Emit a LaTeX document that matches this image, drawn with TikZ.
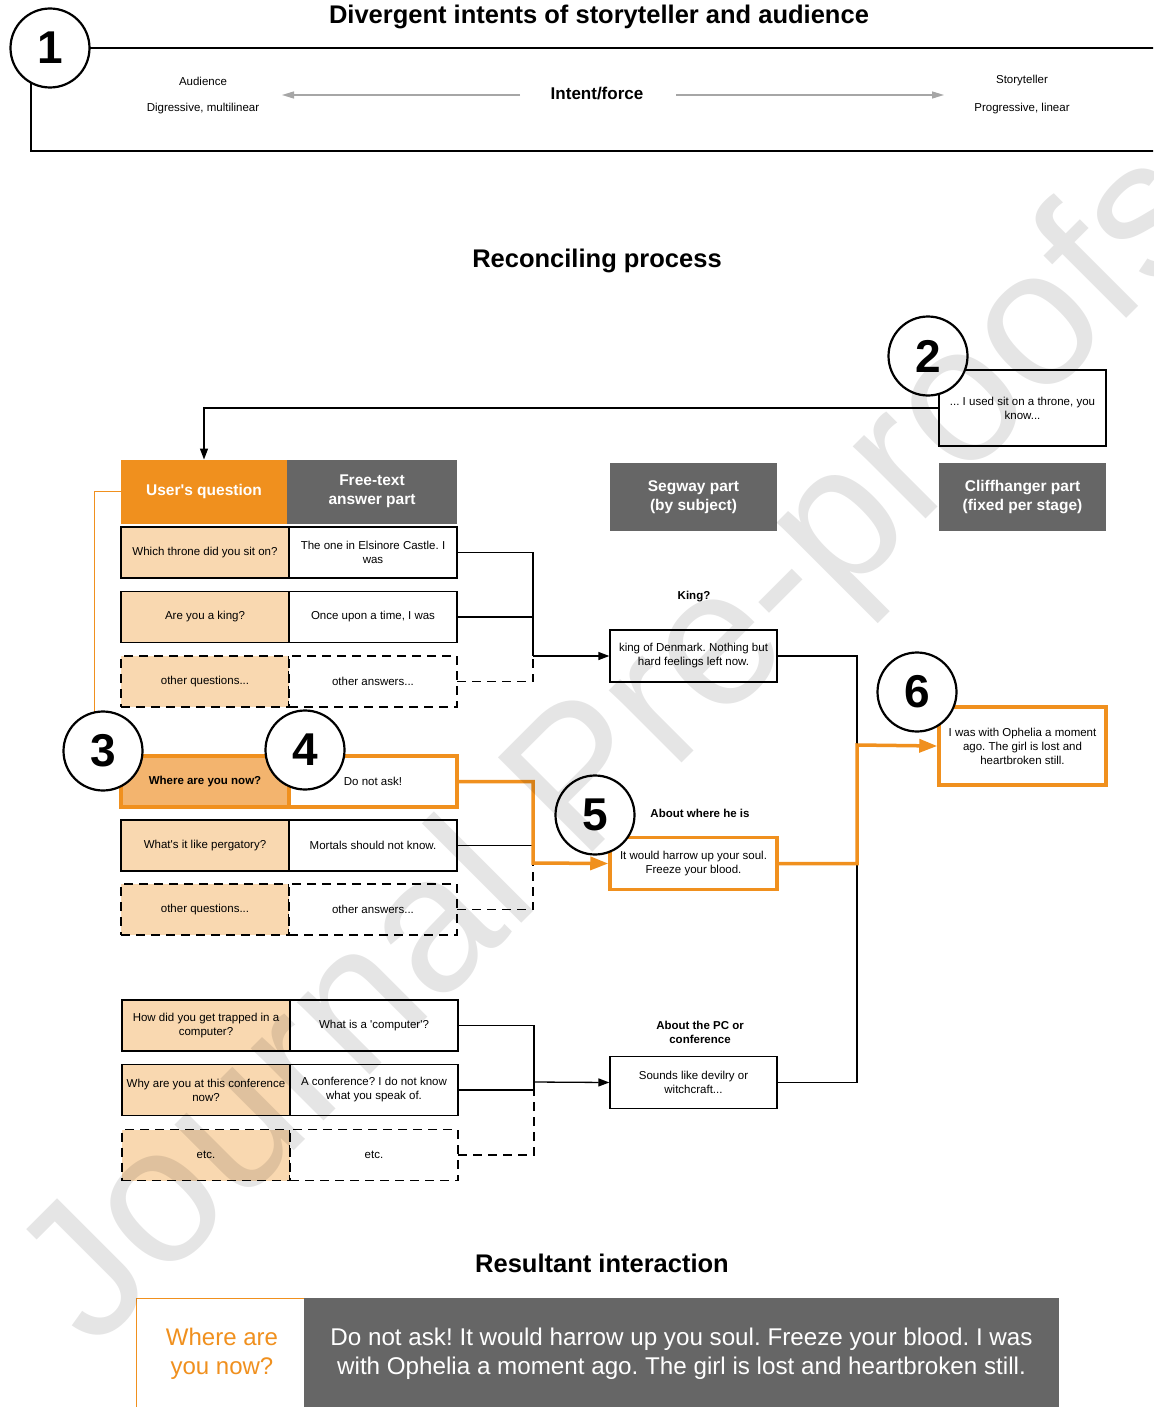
\documentclass[tikz,border=0pt]{standalone}
\usepackage{fontspec}
\setmainfont{Liberation Sans}[Ligatures=TeXOff]
\usepackage{xcolor}
\definecolor{qorange}{HTML}{F0901E}
\definecolor{qpeach}{HTML}{F9D8B0}
\definecolor{qhot}{HTML}{F3B46E}
\definecolor{headgrey}{HTML}{666666}
\definecolor{forcegrey}{HTML}{A6A6A6}
\usetikzlibrary{arrows.meta, positioning}
\frenchspacing

\begin{document}
\begin{tikzpicture}[x=1pt, y=-1pt,
  smalltxt/.style={font=\fontsize{11.5}{14}\selectfont},
  boldtxt/.style={font=\fontsize{11.5}{14}\selectfont\bfseries, align=center},
  heading/.style={font=\fontsize{25.5}{30}\selectfont\bfseries},
  cell/.style={draw, line width=1.3pt, outer sep=0pt, minimum width=168, minimum height=51, inner sep=2pt, align=center, smalltxt},
  qcell/.style={cell, fill=qpeach},
  acell/.style={cell, fill=white},
  etcrow/.style={dash pattern=on 9pt off 6pt},
  colhead/.style={fill=headgrey, text=white, outer sep=0pt, minimum width=168, minimum height=64, align=center, font=\fontsize{15.5}{19}\selectfont\bfseries},
  segbox/.style={draw, line width=1.3pt, fill=white, minimum width=167, minimum height=52, align=center, smalltxt},
  hot/.style={draw=qorange, line width=3.5pt},
  badge/.style={circle, draw, line width=2.2pt, fill=white, minimum size=79, inner sep=0pt, font=\fontsize{46}{46}\selectfont\bfseries},
  link/.style={line width=1.3pt},
  hotlink/.style={draw=qorange, line width=3.5pt},
  leadto/.style={-{Triangle[length=11pt, width=8pt]}},
  hotlead/.style={-{Triangle[length=18pt, width=13pt]}},
]

\clip (0,0) rectangle (1153,1407);
\fill[white] (0,0) rectangle (1153,1407);

% divergent intents
\draw[link] (31,48) rectangle (1170,151);
\node[badge] (n1) at (50,48) {1};
\node[heading] (divtitle) at (599,17) {Divergent intents of storyteller and audience};
\node[smalltxt] (aud) at (203,81) {Audience};
\node[smalltxt] (audkind) at (203,109) {Digressive, multilinear};
\node[font=\fontsize{17}{20}\selectfont\bfseries] (force) at (597,94) {Intent/force};
\node[smalltxt] (story) at (1022,81) {Storyteller};
\node[smalltxt] (storykind) at (1022,109) {Progressive, linear};
\coordinate (forcel) at (520,95);
\coordinate (forcela) at (282,95);
\coordinate (forcer) at (676,95);
\coordinate (forcera) at (944,95);
\draw[forcegrey, line width=1.3pt, -{Triangle[length=12pt, width=7pt]}] (forcel) -- (forcela);
\draw[forcegrey, line width=1.3pt, -{Triangle[length=12pt, width=7pt]}] (forcer) -- (forcera);

% reconciling process
\node[heading] (rectitle) at (597,261) {Reconciling process};

\node[colhead, fill=qorange, minimum width=166] (uq) at (204,491.5) {User's question};
\node[colhead, minimum width=170, right=0pt of uq] (ftext) {Free-text\\answer part};
\node[colhead, minimum width=167, minimum height=68] (segway) at (693.5,497) {Segway part\\(by subject)};
\node[colhead, minimum width=167, minimum height=68] (cliff) at (1022.5,497) {Cliffhanger part\\(fixed per stage)};

\node[segbox, minimum height=76] (used) at (1022.5,408) {... I used sit on a throne, you\\know...};
\draw[link, leadto] (used.west) -| (uq.north);
\node[badge] (n2) at (928,356) {2};

% subject: king
\node[qcell] (q1) at (205,552.5) {Which throne did you sit on?};
\node[acell, right=0pt of q1] (a1) {The one in Elsinore Castle. I\\was};
\node[qcell] (q2) at (205,617) {Are you a king?};
\node[acell, right=0pt of q2] (a2) {Once upon a time, I was};
\node[qcell, etcrow] (q3) at (205,681.5) {other questions...};
\node[acell, etcrow, right=0pt of q3] (a3) {other answers...};

\node[boldtxt] (kinglabel) at (694,597) {King?};
\node[segbox] (king) at (693.5,656) {king of Denmark. Nothing but\\hard feelings left now.};
\coordinate (join1) at (533,656);
\draw[link] (a1.east) -| (join1);
\draw[link] (a2.east) -| (join1);
\draw[link, etcrow] (a3.east) -| (join1);
\draw[link, leadto] (join1) -- (king.west);

% subject: where he is
\node[qcell, fill=qhot, hot, font=\fontsize{11.5}{14}\selectfont\bfseries] (q4) at (205,781.5) {Where are you now?};
\node[acell, hot, right=0pt of q4] (a4) {Do not ask!};
\node[qcell] (q5) at (205,845.5) {What's it like pergatory?};
\node[acell, right=0pt of q5] (a5) {Mortals should not know.};
\node[qcell, etcrow] (q6) at (205,909.5) {other questions...};
\node[acell, etcrow, right=0pt of q6] (a6) {other answers...};

\node[boldtxt] (wherelabel) at (700,813) {About where he is};
\node[segbox, hot] (harrow) at (693.5,863.5) {It would harrow up your soul.\\Freeze your blood.};
\coordinate (join2) at (533,863);
\draw[link] (a5.east) -| (join2);
\draw[link, etcrow] (a6.east) -| (join2);
\draw[qorange, line width=1pt] (uq.west) -- ++(-27,0) |- (q4.west);
\draw[hotlink, hotlead] (a4.east) -| (join2) -- (harrow.west);

% subject: pc or conference
\node[qcell] (q7) at (206,1025.5) {How did you get trapped in a\\computer?};
\node[acell, right=0pt of q7] (a7) {What is a 'computer'?};
\node[qcell] (q8) at (206,1090) {Why are you at this conference\\now?};
\node[acell, right=0pt of q8] (a8) {A conference? I do not know\\what you speak of.};
\node[qcell, etcrow] (q9) at (206,1155) {etc.};
\node[acell, etcrow, right=0pt of q9] (a9) {etc.};

\node[boldtxt] (pclabel) at (700,1032) {About the PC or\\conference};
\node[segbox] (sounds) at (693.5,1082.5) {Sounds like devilry or\\witchcraft...};
\coordinate (join3) at (534,1082);
\draw[link] (a7.east) -| (join3);
\draw[link] (a8.east) -| (join3);
\draw[link, etcrow] (a9.east) -| (join3);
\draw[link, leadto] (join3) -- (sounds.west);

% cliffhanger
\node[segbox, hot, minimum height=78] (ophelia) at (1022.5,746) {I was with Ophelia a moment\\ago. The girl is lost and\\heartbroken still.};
\coordinate (cliffjoin) at (857,745);
\draw[link] (king.east) -| (cliffjoin) |- (sounds.east);
\draw[hotlink, hotlead] (harrow.east) -| (cliffjoin) -- (ophelia.west);

\node[badge] (n3) at (103,751) {3};
\node[badge] (n4) at (305,750) {4};
\node[badge] (n5) at (595,815) {5};
\node[badge] (n6) at (917,692) {6};

% resultant interaction
\node[heading] (restitle) at (602,1263) {Resultant interaction};
\node[draw=qorange, line width=1pt, outer sep=0pt, minimum width=168, minimum height=111, text=qorange, align=center, font=\fontsize{24}{29}\selectfont] (ask) at (220,1353.5) {\hspace*{4pt}Where are\\\hspace*{4pt}you now?};
\node[fill=headgrey, outer sep=0pt, minimum width=755, minimum height=111, text=white, align=center, font=\fontsize{24.2}{29}\selectfont, right=0pt of ask] (reply) {Do not ask! It would harrow up you soul. Freeze your blood. I was\\with Ophelia a moment ago. The girl is lost and heartbroken still.};

% watermark
\node[rotate=45, text=black, text opacity=0.1, font=\fontsize{194}{194}\selectfont] (stamp) at (622,752) {Journal Pre-proofs};
\end{tikzpicture}
\end{document}
